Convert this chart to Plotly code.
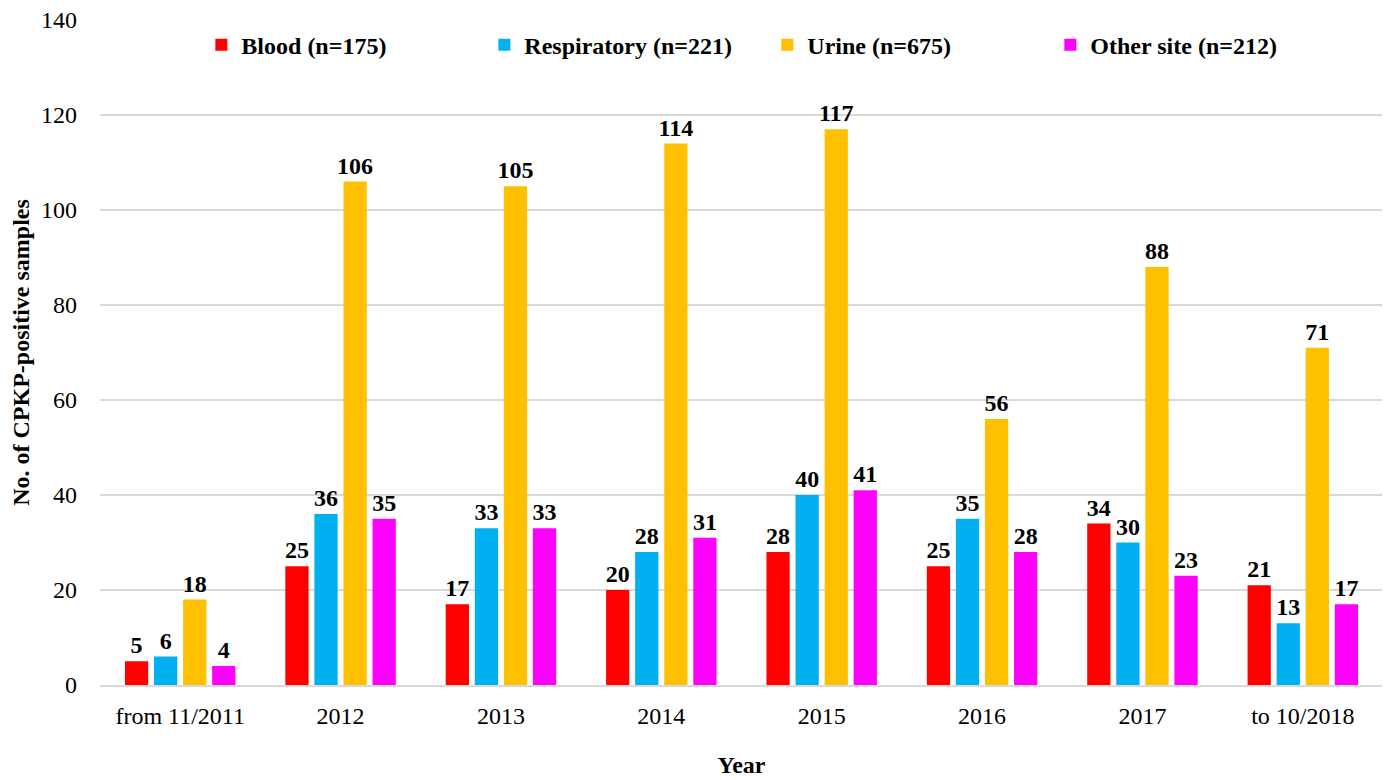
import plotly.graph_objects as go

categories = ["from 11/2011", "2012", "2013", "2014", "2015", "2016", "2017", "to 10/2018"]
blood = [5, 25, 17, 20, 28, 25, 34, 21]
respiratory = [6, 36, 33, 28, 40, 35, 30, 13]
urine = [18, 106, 105, 114, 117, 56, 88, 71]
other = [4, 35, 33, 31, 41, 28, 23, 17]

series = [
    ("Blood (n=175)", blood, "#FF0000"),
    ("Respiratory (n=221)", respiratory, "#00B0F0"),
    ("Urine (n=675)", urine, "#FFC000"),
    ("Other site (n=212)", other, "#FF00FF"),
]

FONT = "Liberation Serif, Times New Roman, serif"

fig = go.Figure()
for name, vals, col in series:
    fig.add_trace(go.Bar(
        x=categories, y=vals, name=name,
        marker=dict(color=col, line=dict(width=0)),
        text=vals, textposition="outside", cliponaxis=False, constraintext="none",
        textfont=dict(family=FONT, size=24, color="black", weight="bold"),
    ))

fig.update_layout(
    width=1380, height=772,
    margin=dict(l=92, r=5, t=12, b=95),
    paper_bgcolor="white", plot_bgcolor="white",
    barmode="group", bargap=0.275, bargroupgap=0.2,
    font=dict(family=FONT, size=24, color="black"),
    showlegend=True,
    legend=dict(orientation="h", x=0.079, xanchor="left", y=0.962, yanchor="middle",
                font=dict(family=FONT, size=24, color="black", weight="bold"),
                bgcolor="rgba(0,0,0,0)", entrywidth=238, itemwidth=30, tracegroupgap=0),
)
fig.update_xaxes(
    title=dict(text="Year", font=dict(family=FONT, size=24, weight="bold"), standoff=28),
    showline=True, linecolor="#D9D9D9", linewidth=2, ticks="",
    tickfont=dict(family=FONT, size=24), ticklabelstandoff=8, automargin=False,
)
fig.update_yaxes(
    range=[0, 140], dtick=20, showgrid=True, gridcolor="#D9D9D9", gridwidth=1.5,
    zeroline=False, showline=False, ticks="", ticklabelstandoff=22,
    ticklabeloverflow="allow", automargin=False,
    title=dict(text="No. of CPKP-positive samples", font=dict(family=FONT, size=24, weight="bold"), standoff=12),
    tickfont=dict(family=FONT, size=24),
)

fig.write_html("out.html")
